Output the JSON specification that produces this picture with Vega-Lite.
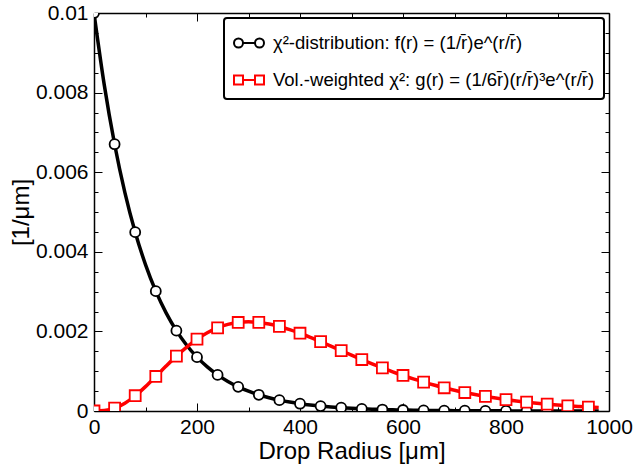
{
  "$schema": "https://vega.github.io/schema/vega-lite/v6.json",
  "width": 515,
  "height": 398,
  "autosize": {"type": "none"},
  "padding": {"left": 94, "top": 13, "right": 27, "bottom": 54},
  "background": "white",
  "config": {
    "view": {"stroke": null},
    "font": "Liberation Sans",
    "legend": {"strokeWidth": 2},
    "axis": {
      "domainColor": "black",
      "domainWidth": 1.5,
      "tickColor": "black",
      "tickWidth": 1,
      "grid": false,
      "labelFont": "Liberation Sans",
      "labelFontSize": 21,
      "labelColor": "black",
      "titleFont": "Liberation Sans",
      "titleFontSize": 24,
      "titleFontWeight": "normal",
      "titleColor": "black",
      "labelOverlap": false,
      "labelBound": false,
      "labelFlush": false
    }
  },
  "data": {
    "values": [
      {"r": 0, "f": 0.01, "g": 0},
      {"r": 20, "f": 0.0081873, "g": 0.0000109},
      {"r": 40, "f": 0.0067032, "g": 0.0000715},
      {"r": 60, "f": 0.0054881, "g": 0.0001976},
      {"r": 80, "f": 0.0044933, "g": 0.0003834},
      {"r": 100, "f": 0.0036788, "g": 0.0006131},
      {"r": 120, "f": 0.0030119, "g": 0.0008674},
      {"r": 140, "f": 0.002466, "g": 0.0011278},
      {"r": 160, "f": 0.002019, "g": 0.0013783},
      {"r": 180, "f": 0.001653, "g": 0.0016067},
      {"r": 200, "f": 0.0013534, "g": 0.0018045},
      {"r": 220, "f": 0.001108, "g": 0.0019664},
      {"r": 240, "f": 0.00090718, "g": 0.0020901},
      {"r": 260, "f": 0.00074274, "g": 0.0021757},
      {"r": 280, "f": 0.0006081, "g": 0.0022248},
      {"r": 300, "f": 0.00049787, "g": 0.0022404},
      {"r": 320, "f": 0.00040762, "g": 0.0022262},
      {"r": 340, "f": 0.00033373, "g": 0.0021862},
      {"r": 360, "f": 0.00027324, "g": 0.0021247},
      {"r": 380, "f": 0.00022371, "g": 0.0020459},
      {"r": 400, "f": 0.00018316, "g": 0.0019537},
      {"r": 420, "f": 0.00014996, "g": 0.0018517},
      {"r": 440, "f": 0.00012277, "g": 0.001743},
      {"r": 460, "f": 0.00010052, "g": 0.0016307},
      {"r": 480, "f": 0.000082297, "g": 0.0015169},
      {"r": 500, "f": 0.000067379, "g": 0.0014037},
      {"r": 520, "f": 0.000055166, "g": 0.0012928},
      {"r": 540, "f": 0.000045166, "g": 0.0011853},
      {"r": 560, "f": 0.000036979, "g": 0.0010824},
      {"r": 580, "f": 0.000030276, "g": 0.00098454},
      {"r": 600, "f": 0.000024788, "g": 0.00089237},
      {"r": 620, "f": 0.000020294, "g": 0.0008061},
      {"r": 640, "f": 0.000016616, "g": 0.00072596},
      {"r": 660, "f": 0.000013604, "g": 0.00065185},
      {"r": 680, "f": 0.000011138, "g": 0.00058369},
      {"r": 700, "f": 0.0000091188, "g": 0.00052129},
      {"r": 720, "f": 0.0000074659, "g": 0.00046444},
      {"r": 740, "f": 0.0000061125, "g": 0.00041282},
      {"r": 760, "f": 0.0000050045, "g": 0.00036614},
      {"r": 780, "f": 0.0000040973, "g": 0.00032406},
      {"r": 800, "f": 0.0000033546, "g": 0.00028626},
      {"r": 820, "f": 0.0000027465, "g": 0.00025239},
      {"r": 840, "f": 0.0000022487, "g": 0.00022214},
      {"r": 860, "f": 0.0000018411, "g": 0.00019517},
      {"r": 880, "f": 0.0000015073, "g": 0.0001712},
      {"r": 900, "f": 0.0000012341, "g": 0.00014994},
      {"r": 920, "f": 0.0000010104, "g": 0.00013113},
      {"r": 940, "f": 0.00000082724, "g": 0.00011452},
      {"r": 960, "f": 0.00000067729, "g": 0.00009987},
      {"r": 980, "f": 0.00000055452, "g": 0.00008699}
    ]
  },
  "transform": [{"fold": ["f", "g"], "as": ["series", "value"]}],
  "layer": [
    {
      "transform": [{"filter": "datum.series == 'f'"}],
      "mark": {"type": "line", "color": "black", "strokeWidth": 3.5, "interpolate": "monotone", "clip": true},
      "encoding": {
        "x": {
          "field": "r", "type": "quantitative",
          "scale": {"domain": [0, 1000], "nice": false},
          "axis": {
            "orient": "bottom",
            "values": [0, 100, 200, 300, 400, 500, 600, 700, 800, 900, 1000],
            "format": "d",
            "labelExpr": "datum.value % 200 == 0 ? datum.label : ''",
            "tickSize": {"condition": {"test": "datum.value % 200 == 0", "value": -8}, "value": -4},
            "labelPadding": 13,
            "title": "Drop Radius [μm]",
            "titlePadding": -2
          }
        },
        "y": {
          "field": "value", "type": "quantitative",
          "scale": {"domain": [0, 0.01], "nice": false},
          "axis": {
            "orient": "left",
            "values": [0, 0.0005, 0.001, 0.0015, 0.002, 0.0025, 0.003, 0.0035, 0.004, 0.0045, 0.005, 0.0055, 0.006, 0.0065, 0.007, 0.0075, 0.008, 0.0085, 0.009, 0.0095, 0.01],
            "format": "~g",
            "labelExpr": "abs(datum.value*500 - round(datum.value*500)) < 0.000001 ? datum.label : ''",
            "tickSize": {"condition": {"test": "abs(datum.value*500 - round(datum.value*500)) < 0.000001", "value": -8}, "value": -4},
            "labelPadding": 14,
            "title": "[1/μm]",
            "titlePadding": 2
          }
        }
      }
    },
    {
      "transform": [{"filter": "datum.series == 'g'"}],
      "mark": {"type": "line", "color": "#ff0000", "strokeWidth": 3.5, "interpolate": "monotone", "clip": true},
      "encoding": {
        "x": {
          "field": "r", "type": "quantitative",
          "axis": {
            "orient": "top",
            "values": [0, 100, 200, 300, 400, 500, 600, 700, 800, 900, 1000],
            "labels": false,
            "title": null,
            "tickSize": {"condition": {"test": "datum.value % 200 == 0", "value": -8}, "value": -4}
          }
        },
        "y": {
          "field": "value", "type": "quantitative",
          "axis": {
            "orient": "right",
            "values": [0, 0.0005, 0.001, 0.0015, 0.002, 0.0025, 0.003, 0.0035, 0.004, 0.0045, 0.005, 0.0055, 0.006, 0.0065, 0.007, 0.0075, 0.008, 0.0085, 0.009, 0.0095, 0.01],
            "labels": false,
            "title": null,
            "tickSize": {"condition": {"test": "abs(datum.value*500 - round(datum.value*500)) < 0.000001", "value": -8}, "value": -4}
          }
        }
      }
    },
    {
      "transform": [{"filter": "datum.series == 'f' && datum.r % 40 == 0"}],
      "mark": {"type": "point", "shape": "circle", "filled": true, "fill": "white", "stroke": "black", "strokeWidth": 1.8, "size": 100, "opacity": 1, "clip": true},
      "encoding": {
        "x": {"field": "r", "type": "quantitative", "axis": null},
        "y": {"field": "value", "type": "quantitative", "axis": null}
      }
    },
    {
      "transform": [{"filter": "datum.series == 'g' && datum.r % 40 == 0"}],
      "mark": {"type": "point", "shape": "square", "filled": true, "fill": "white", "stroke": "#ff0000", "strokeWidth": 1.8, "size": 120, "opacity": 1, "clip": true},
      "encoding": {
        "x": {"field": "r", "type": "quantitative", "axis": null},
        "y": {"field": "value", "type": "quantitative", "axis": null}
      }
    },
    {
      "transform": [{"filter": "false"}],
      "mark": {"type": "point", "filled": false, "fill": "white", "strokeWidth": 2, "opacity": 1},
      "encoding": {
        "x": {"field": "r", "type": "quantitative", "axis": null},
        "y": {"field": "value", "type": "quantitative", "axis": null},
        "color": {
          "field": "series", "type": "nominal",
          "scale": {"domain": ["f", "g"], "range": ["black", "#ff0000"]},
          "legend": {
            "title": null,
            "orient": "top-right",
            "offset": 5,
            "labelExpr": "datum.value == 'f' ? 'χ²-distribution: f(r) = (1/r̄)e^(r/r̄)' : 'Vol.-weighted χ²: g(r) = (1/6r̄)(r/r̄)³e^(r/r̄)'",
            "labelFont": "Liberation Sans",
            "labelFontSize": 18.5,
            "labelColor": "black",
            "labelLimit": 0,
            "labelOffset": 8,
            "symbolSize": 900,
            "symbolStrokeWidth": 2,
            "symbolFillColor": "white",
            "symbolOpacity": 1,
            "strokeColor": "black",
            "fillColor": "white",
            "cornerRadius": 3,
            "padding": 9,
            "rowPadding": 11
          }
        },
        "shape": {
          "field": "series", "type": "nominal",
          "scale": {
            "domain": ["f", "g"],
            "range": [
              "M-1,0A0.3,0.3,0,1,0,-0.4,0A0.3,0.3,0,1,0,-1,0ZM-0.4,0L0.4,0M0.4,0A0.3,0.3,0,1,0,1,0A0.3,0.3,0,1,0,0.4,0Z",
              "M-1,-0.3L-0.4,-0.3L-0.4,0.3L-1,0.3ZM-0.4,0L0.4,0M0.4,-0.3L1,-0.3L1,0.3L0.4,0.3Z"
            ]
          },
          "legend": {
            "title": null,
            "orient": "top-right",
            "offset": 5,
            "labelExpr": "datum.value == 'f' ? 'χ²-distribution: f(r) = (1/r̄)e^(r/r̄)' : 'Vol.-weighted χ²: g(r) = (1/6r̄)(r/r̄)³e^(r/r̄)'",
            "labelFont": "Liberation Sans",
            "labelFontSize": 18.5,
            "labelColor": "black",
            "labelLimit": 0,
            "labelOffset": 8,
            "symbolSize": 900,
            "symbolStrokeWidth": 2,
            "symbolFillColor": "white",
            "symbolOpacity": 1,
            "strokeColor": "black",
            "fillColor": "white",
            "cornerRadius": 3,
            "padding": 9,
            "rowPadding": 11
          }
        }
      }
    }
  ]
}
